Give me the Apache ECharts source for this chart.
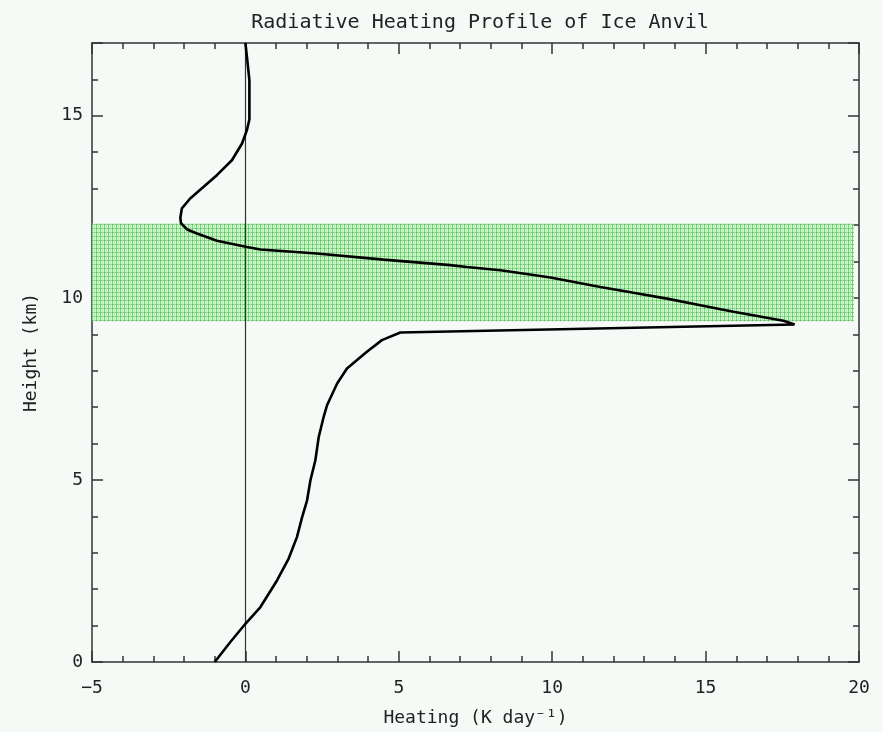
<!DOCTYPE html>
<html>
<head>
<meta charset="utf-8">
<script src="https://cdn.jsdelivr.net/npm/echarts@6/dist/echarts.min.js"></script>
<style>
  html, body { margin: 0; padding: 0; background: #f6faf7; }
  #chart { width: 883px; height: 732px; }
</style>
</head>
<body>
<div id="chart"></div>
<script>
// profile, from the ground up and back round the anvil
const heating = [-1.0, -0.49, 0.0, 0.49, 1.03, 1.41, 1.68, 1.84, 2.01, 2.12, 2.28, 2.39, 2.55, 2.66, 2.99, 3.31, 3.96, 4.45, 5.05,
  17.9, 17.54, 15.91, 14.83, 13.74, 12.65, 11.57, 9.94, 9.39, 8.31, 7.22, 6.68, 4.5, 2.33, 0.49, 0.05, -0.93, -1.58, -1.9, -2.1, -2.12,
  -2.07, -1.8, -1.36, -0.93, -0.44, -0.11, 0.05, 0.13, 0.13, 0.05, 0.0];
const height = [0.0, 0.55, 1.05, 1.51, 2.24, 2.84, 3.43, 3.95, 4.44, 4.99, 5.54, 6.18, 6.73, 7.05, 7.65, 8.06, 8.52, 8.84, 9.05,
  9.27, 9.37, 9.62, 9.8, 9.98, 10.14, 10.3, 10.56, 10.63, 10.76, 10.85, 10.9, 11.05, 11.22, 11.33, 11.4, 11.57, 11.77, 11.88, 12.05, 12.2,
  12.46, 12.73, 13.05, 13.37, 13.78, 14.24, 14.61, 14.9, 15.98, 16.62, 17.0];

// cloud layer (km) and its horizontal span
const anvilBase = 9.36;
const anvilTop = 12.04;
const anvilLeft = -5.15;
const anvilRight = 19.83;

const xTicks = { min: -5, max: 20, interval: 5 };
const yTicks = { min: 0, max: 17, interval: 5 };

// little plaid tile for the shaded band
function bandPattern() {
  const c = document.createElement('canvas');
  c.width = 4; c.height = 4;
  const g = c.getContext('2d');
  g.fillStyle = '#e0f5e0';
  g.fillRect(0, 0, 4, 4);
  g.fillStyle = '#86d086';
  g.fillRect(0, 0, 4, 1);
  g.fillRect(0, 0, 1, 4);
  g.fillStyle = '#b6e3b6';
  g.fillRect(2, 0, 1, 4);
  g.fillStyle = '#5cb85c';
  g.fillRect(0, 0, 1, 1);
  return c;
}

const font = 'DejaVu Sans Mono';
const ink = '#222';
const minus = v => String(v).replace('-', '\u2212');

function axisBits(showLabels, margin, hideMax) {
  return {
    axisLine: { show: true, onZero: false, lineStyle: { color: '#333', width: 1.5 } },
    axisTick: { show: true, inside: true, length: 11, lineStyle: { color: '#333', width: 1.5 } },
    minorTick: { show: true, splitNumber: 5, length: 6, lineStyle: { color: '#333', width: 1.5 } },
    splitLine: { show: false },
    axisLabel: {
      show: showLabels, color: ink, fontFamily: font, fontSize: 18, margin: margin,
      showMaxLabel: hideMax ? false : null, formatter: minus
    }
  };
}

const chart = echarts.init(document.getElementById('chart'), null, { renderer: 'canvas' });

chart.setOption({
  backgroundColor: '#f6faf7',
  animation: false,
  title: {
    text: 'Radiative Heating Profile of Ice Anvil',
    left: 475, top: 8, textAlign: 'center',
    textStyle: { color: ink, fontFamily: font, fontWeight: 'normal', fontSize: 20 }
  },
  grid: { left: 92, right: 24, top: 43, bottom: 70 },
  xAxis: [
    Object.assign({
      type: 'value', position: 'bottom', min: xTicks.min, max: xTicks.max, interval: xTicks.interval,
      name: 'Heating (K day⁻¹)', nameLocation: 'middle', nameGap: 47,
      nameTextStyle: { color: ink, fontFamily: font, fontSize: 18 }
    }, axisBits(true, 17, false)),
    Object.assign({
      type: 'value', position: 'top', min: xTicks.min, max: xTicks.max, interval: xTicks.interval
    }, axisBits(false, 8, true))
  ],
  yAxis: [
    Object.assign({
      type: 'value', position: 'left', min: yTicks.min, max: yTicks.max, interval: yTicks.interval,
      name: 'Height (km)', nameLocation: 'middle', nameGap: 52, nameRotate: 90,
      nameTextStyle: { color: ink, fontFamily: font, fontSize: 18 }
    }, axisBits(true, 9, true)),
    Object.assign({
      type: 'value', position: 'right', min: yTicks.min, max: yTicks.max, interval: yTicks.interval
    }, axisBits(false, 8, true))
  ],
  series: [{
    type: 'line',
    clip: false,
    data: heating.map((h, i) => [h, height[i]]),
    showSymbol: false,
    symbol: 'none',
    lineStyle: { color: '#000', width: 2.6 },
    z: 5,
    markArea: {
      silent: true,
      itemStyle: { color: { image: bandPattern(), repeat: 'repeat' } },
      data: [[{ coord: [anvilLeft, anvilBase] }, { coord: [anvilRight, anvilTop] }]]
    },
    markLine: {
      silent: true,
      symbol: 'none',
      label: { show: false },
      lineStyle: { color: '#333', width: 1.2, type: 'solid' },
      data: [{ xAxis: 0 }]
    }
  }]
});
</script>
</body>
</html>
